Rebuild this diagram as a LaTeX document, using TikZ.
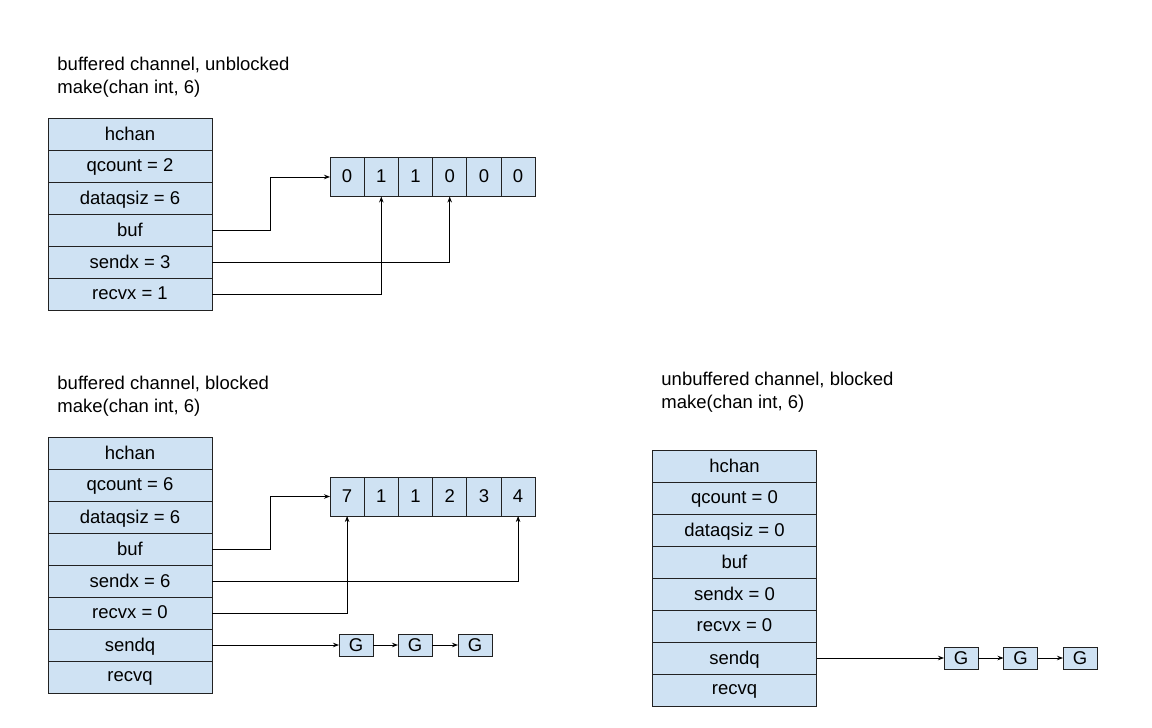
\documentclass[tikz,border=0pt]{standalone}
\usepackage{fontspec}
\setmainfont{Liberation Sans}
\usetikzlibrary{positioning, arrows.meta}
\definecolor{cellblue}{HTML}{CFE2F3}
\definecolor{lineblack}{HTML}{222222}

\begin{document}
\begin{tikzpicture}[x=1pt, y=-1pt,
        field/.style={rectangle, draw=lineblack, fill=cellblue, minimum width=164pt, minimum height=32pt, outer sep=0pt, inner sep=0pt, text depth=1pt, font=\fontsize{18.5}{21}\selectfont},
        cell/.style={rectangle, draw=lineblack, fill=cellblue, minimum width=34.2pt, minimum height=39pt, outer sep=0pt, inner sep=0pt, text depth=1pt, font=\fontsize{18.5}{21}\selectfont},
        gnode/.style={rectangle, draw=lineblack, fill=cellblue, minimum width=34pt, minimum height=22pt, outer sep=0pt, inner sep=0pt, font=\fontsize{18.5}{21}\selectfont},
        title/.style={anchor=north west, align=left, inner sep=0pt, font=\fontsize{18.5}{22.5}\selectfont},
        >={Stealth[length=6pt, width=4.5pt]},
        every path/.style={line width=0.9pt},
]
        \useasboundingbox (0,0) rectangle (1152,728);

        % buffered, unblocked
        \node[title] (utitle) at (57,57) {buffered channel, unblocked\\make(chan int, 6)};
        \node[field] (uhchan) at (130,134) {hchan};
        \node[field] (uqcount) [below=0pt of uhchan] {qcount = 2};
        \node[field] (udataqsiz) [below=0pt of uqcount] {dataqsiz = 6};
        \node[field] (ubuf) [below=0pt of udataqsiz] {buf};
        \node[field] (usendx) [below=0pt of ubuf] {sendx = 3};
        \node[field] (urecvx) [below=0pt of usendx] {recvx = 1};

        \node[cell] (ucell0) at (347.1,177) {0};
        \node[cell] (ucell1) [right=0pt of ucell0] {1};
        \node[cell] (ucell2) [right=0pt of ucell1] {1};
        \node[cell] (ucell3) [right=0pt of ucell2] {0};
        \node[cell] (ucell4) [right=0pt of ucell3] {0};
        \node[cell] (ucell5) [right=0pt of ucell4] {0};

        \draw[->] (ubuf.east) -- ++(58,0) |- (ucell0.west);
        \draw[->] (usendx.east) -| (ucell3.south);
        \draw[->] (urecvx.east) -| (ucell1.south);

        % buffered, blocked
        \node[title] (btitle) at (57,376) {buffered channel, blocked\\make(chan int, 6)};
        \node[field] (bhchan) at (130,453) {hchan};
        \node[field] (bqcount) [below=0pt of bhchan] {qcount = 6};
        \node[field] (bdataqsiz) [below=0pt of bqcount] {dataqsiz = 6};
        \node[field] (bbuf) [below=0pt of bdataqsiz] {buf};
        \node[field] (bsendx) [below=0pt of bbuf] {sendx = 6};
        \node[field] (brecvx) [below=0pt of bsendx] {recvx = 0};
        \node[field] (bsendq) [below=0pt of brecvx] {sendq};
        \node[field] (brecvq) [below=0pt of bsendq] {recvq};

        \node[cell] (bcell0) at (347.1,496.5) {7};
        \node[cell] (bcell1) [right=0pt of bcell0] {1};
        \node[cell] (bcell2) [right=0pt of bcell1] {1};
        \node[cell] (bcell3) [right=0pt of bcell2] {2};
        \node[cell] (bcell4) [right=0pt of bcell3] {3};
        \node[cell] (bcell5) [right=0pt of bcell4] {4};

        \node[gnode] (bg1) at (356,645) {G};
        \node[gnode] (bg2) at (415,645) {G};
        \node[gnode] (bg3) at (475,645) {G};

        \draw[->] (bbuf.east) -- ++(58,0) |- (bcell0.west);
        \draw[->] (bsendx.east) -| (bcell5.south);
        \draw[->] (brecvx.east) -| (bcell0.south);
        \draw[->] (bsendq.east) -- (bg1.west);
        \draw[->] (bg1.east) -- (bg2.west);
        \draw[->] (bg2.east) -- (bg3.west);

        % unbuffered, blocked
        \node[title] (ntitle) at (661,372) {unbuffered channel, blocked\\make(chan int, 6)};
        \node[field] (nhchan) at (734.5,466) {hchan};
        \node[field] (nqcount) [below=0pt of nhchan] {qcount = 0};
        \node[field] (ndataqsiz) [below=0pt of nqcount] {dataqsiz = 0};
        \node[field] (nbuf) [below=0pt of ndataqsiz] {buf};
        \node[field] (nsendx) [below=0pt of nbuf] {sendx = 0};
        \node[field] (nrecvx) [below=0pt of nsendx] {recvx = 0};
        \node[field] (nsendq) [below=0pt of nrecvx] {sendq};
        \node[field] (nrecvq) [below=0pt of nsendq] {recvq};

        \node[gnode] (ng1) at (961,658) {G};
        \node[gnode] (ng2) at (1020.5,658) {G};
        \node[gnode] (ng3) at (1080,658) {G};

        \draw[->] (nsendq.east) -- (ng1.west);
        \draw[->] (ng1.east) -- (ng2.west);
        \draw[->] (ng2.east) -- (ng3.west);
\end{tikzpicture}
\end{document}
